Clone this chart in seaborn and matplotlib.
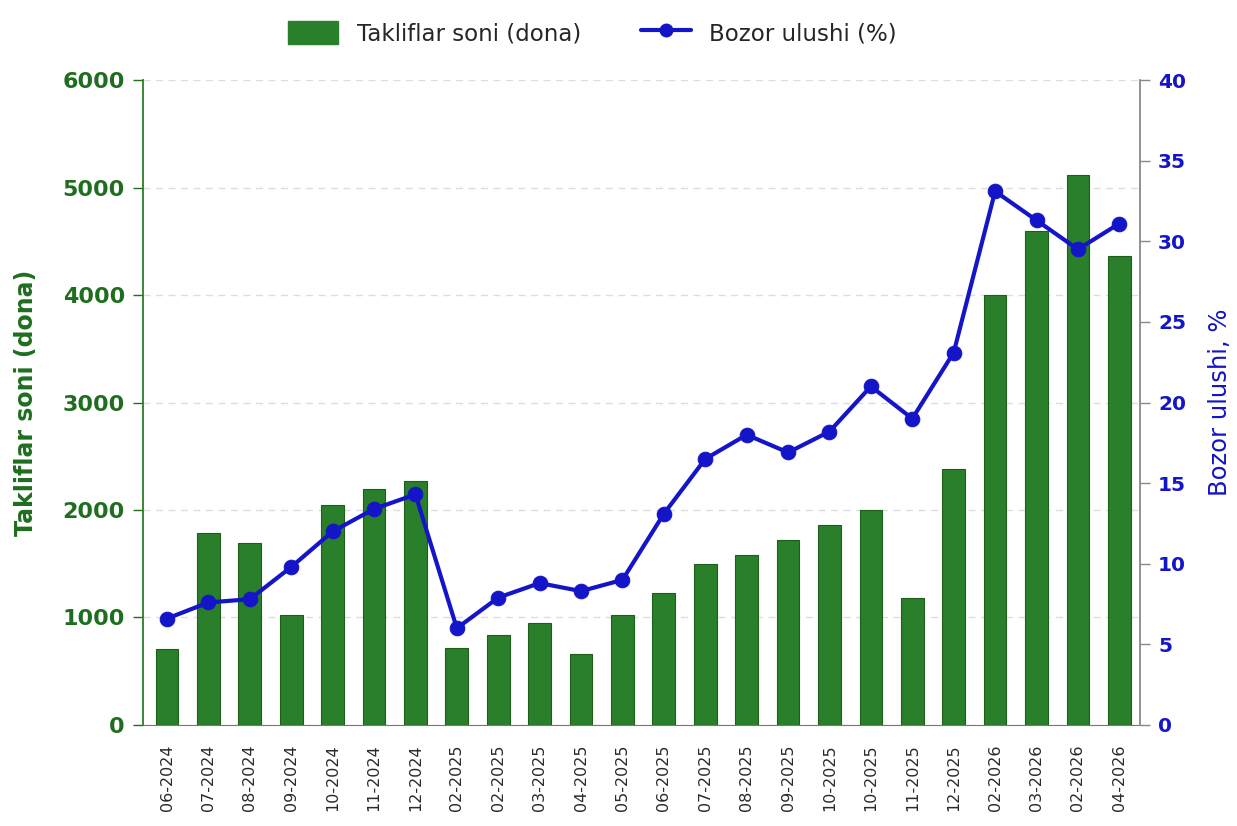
import pandas as pd
import matplotlib.pyplot as plt
import seaborn as sns
from matplotlib.patches import Patch
from matplotlib.lines import Line2D

# Data
months = ['06-2024', '07-2024', '08-2024', '09-2024', '10-2024', '11-2024', '12-2024',
          '02-2025', '02-2025', '03-2025', '04-2025', '05-2025', '06-2025', '07-2025',
          '08-2025', '09-2025', '10-2025', '10-2025', '11-2025', '12-2025',
          '02-2026', '03-2026', '02-2026', '04-2026']
offers = [710, 1790, 1690, 1025, 2050, 2200, 2270,
          720, 840, 950, 660, 1020, 1230, 1500,
          1580, 1720, 1860, 2000, 1180, 2380,
          4000, 4600, 5120, 4360]
share = [6.6, 7.6, 7.8, 9.8, 12.0, 13.4, 14.3,
         6.0, 7.9, 8.8, 8.3, 9.0, 13.1, 16.5,
         18.0, 16.9, 18.2, 21.0, 19.0, 23.1,
         33.1, 31.3, 29.5, 31.1]

df = pd.DataFrame({'pos': range(len(months)), 'month': months,
                   'offers': offers, 'share': share})

green = '#2a7f2a'
green_text = '#1f6e1f'
blue = '#1414c8'

sns.set_style('white')
plt.rcParams['font.family'] = ['DejaVu Sans']

fig = plt.figure(figsize=(12.37, 8.26), dpi=100)
ax = fig.add_axes([0.1156, 0.1223, 0.806, 0.7808])

sns.barplot(data=df, x='pos', y='offers', color=green, width=0.55,
            edgecolor='#1d5e1d', linewidth=0.8, saturation=1, ax=ax)
ax.set_ylim(0, 6000)
ax.set_xlim(-0.58, 23.5)
ax.set_yticks(range(0, 6001, 1000))
ax.yaxis.grid(True, linestyle=(0, (5, 4)), color='#dddddd', linewidth=1)
ax.set_axisbelow(True)
ax.set_xticks(df['pos'])
ax.set_xticklabels(months, rotation=90, fontsize=11.5, color='#2a2a2a')
ax.set_xlabel('')
ax.set_ylabel('Takliflar soni (dona)', color=green_text, fontsize=17,
              fontweight='bold', labelpad=18)
ax.tick_params(axis='y', colors=green_text, labelsize=16, length=7, width=1, pad=6)
ax.tick_params(axis='x', length=6, width=1, color='#555555', pad=8)
for lbl in ax.get_yticklabels():
    lbl.set_fontweight('bold')
ax.spines['top'].set_visible(False)
ax.spines['right'].set_visible(False)
ax.spines['left'].set_color(green)
ax.spines['left'].set_linewidth(1.3)
ax.spines['bottom'].set_color('#777777')

ax2 = ax.twinx()
sns.lineplot(data=df, x='pos', y='share', color=blue, linewidth=3,
             marker='o', markersize=10.5, markeredgecolor=blue, ax=ax2)
ax2.set_ylim(0, 40)
ax2.set_yticks(range(0, 41, 5))
ax2.set_ylabel('Bozor ulushi, %', color=blue, fontsize=17.5, labelpad=16)
ax2.tick_params(axis='y', labelcolor=blue, labelsize=14.5, length=7, width=1,
                color='#888888', pad=6)
for lbl in ax2.get_yticklabels():
    lbl.set_fontweight('bold')
for sp in ['top', 'left', 'bottom']:
    ax2.spines[sp].set_visible(False)
ax2.spines['right'].set_color('#888888')
ax2.spines['right'].set_linewidth(1.3)

handles = [Patch(facecolor=green, edgecolor=green),
           Line2D([0], [0], color=blue, linewidth=3, marker='o', markersize=9)]
fig.legend(handles, ['Takliflar soni (dona)', 'Bozor ulushi (%)'],
           loc='upper center', bbox_to_anchor=(0.479, 1.0), ncol=2,
           frameon=False, fontsize=16.5, handlelength=2.2, handleheight=1.2,
           columnspacing=2.6)

fig.savefig('out.png', dpi=100)
